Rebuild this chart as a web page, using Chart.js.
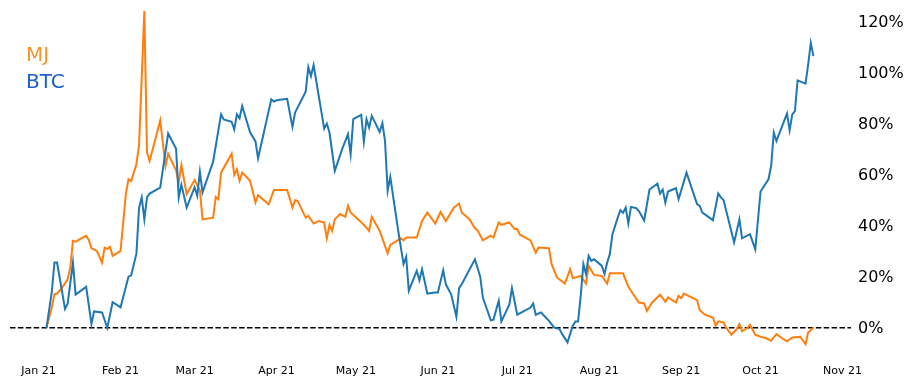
<!DOCTYPE html>
<html>
<head>
<meta charset="utf-8">
<script src="https://cdn.jsdelivr.net/npm/chart.js@4.4.1/dist/chart.umd.min.js"></script>
<style>
    html, body { margin: 0; padding: 0; background: #fff; }
    .wrap { position: relative; width: 914px; height: 388px; }
    .legend {
        position: absolute;
        left: 26px;
        top: 41px;
        font-family: "DejaVu Sans", sans-serif;
        font-size: 20px;
        line-height: 27px;
    }
</style>
</head>
<body>
<div class="wrap">
    <canvas id="chart" width="914" height="388"></canvas>
    <div class="legend">
        <div style="color:#f0962a">MJ</div>
        <div style="color:#1b5fcf">BTC</div>
    </div>
</div>
<script>
// x values are days since 2021-01-01, y values are % return since the first day
const monthStarts = [0, 31, 59, 90, 120, 151, 181, 212, 243, 273, 304];
const monthLabels = ['Jan 21', 'Feb 21', 'Mar 21', 'Apr 21', 'May 21', 'Jun 21', 'Jul 21', 'Aug 21', 'Sep 21', 'Oct 21', 'Nov 21'];
const yTicks = [0, 20, 40, 60, 80, 100, 120];

const btcDays = [
    3, 5, 6, 7, 10, 11, 13, 14, 18, 20,
    21, 24, 26, 28, 31, 33, 34, 35, 37, 38,
    39, 40, 41, 42, 46, 49, 52, 53, 54, 56,
    59, 60, 61, 62, 66, 69, 70, 73, 74, 75,
    76, 77, 80, 82, 83, 88, 89, 90, 94, 96,
    97, 101, 102, 103, 104, 108, 109, 110, 112, 115,
    117, 118, 119, 122, 123, 124, 125, 126, 129, 130,
    131, 132, 133, 136, 138, 139, 140, 143, 144, 145,
    147, 150, 151, 153, 154, 156, 158, 159, 160, 165,
    167, 168, 171, 172, 174, 175, 178, 179, 181, 186,
    187, 188, 190, 193, 195, 197, 198, 200, 202, 203,
    204, 205, 206, 207, 208, 209, 210, 212, 213, 214,
    215, 216, 217, 219, 220, 221, 222, 223, 224, 226,
    227, 229, 231, 234, 235, 236, 237, 238, 241, 242,
    245, 249, 250, 251, 255, 257, 258, 259, 263, 265,
    266, 269, 271, 273, 276, 277, 278, 279, 283, 284,
    285, 286, 287, 290, 291, 292, 293
];
const btcReturns = [
    0, 14, 25.5, 25.5, 7.4, 9.4, 25.5, 13, 16, 1.5,
    6.4, 6, 0, 10, 8, 16, 20, 20.5, 29, 47,
    51, 42.4, 51, 52.5, 54.8, 76, 70, 51, 56, 47,
    55, 51.6, 61, 53, 65, 83.5, 81.5, 80.6, 77.6, 83.5,
    82, 86.8, 76.4, 73, 66.3, 89.4, 88.5, 89, 89.6, 78.6,
    84.2, 92.4, 102, 98.5, 102.8, 77.9, 79.9, 76.4, 61.4, 70.5,
    75.7, 67.9, 81.6, 83.3, 72.8, 81.6, 78.3, 82.9, 76.6, 80.1,
    73.1, 53.6, 59, 37.9, 24.9, 27.7, 14.5, 22.3, 18.6, 22.9,
    13.4, 13.8, 13.8, 22.5, 17, 13.1, 4.3, 15.5, 17, 26.8,
    20, 11.8, 2.9, 3.2, 10.6, 2.5, 9, 15.5, 5.1, 7.9,
    9.5, 5.1, 6, 2.7, 0.1, -0.5, -2.5, -5.7, 0.8, 2.5,
    2.5, 12.5, 24.9, 21, 28.1, 26.2, 26.8, 25.1, 24.2, 21,
    25.5, 28.8, 36.6, 43.1, 46, 45, 47, 40.8, 47.3, 46.8,
    45.7, 42, 54.1, 56.4, 52.5, 54.1, 49, 53.3, 54.6, 50.3,
    60.7, 48.4, 47.7, 45.1, 42.1, 52.5, 51, 50, 33.4, 42.4,
    35, 36.6, 30.7, 53.3, 58.1, 63.3, 76.4, 73.1, 83.8, 77.3,
    83.5, 84.8, 96.8, 95.5, 103, 111.5, 106.3
];

const mjDays = [
    3, 5, 6, 7, 9, 11, 12, 13, 14, 16,
    18, 19, 20, 22, 24, 25, 26, 27, 28, 31,
    33, 34, 35, 37, 38, 40, 41, 42, 46, 48,
    49, 52, 53, 54, 56, 59, 61, 62, 66, 67,
    68, 69, 73, 74, 75, 76, 77, 80, 82, 83,
    87, 89, 94, 96, 97, 98, 101, 102, 104, 106,
    108, 109, 110, 111, 112, 114, 116, 117, 118, 123,
    125, 126, 129, 132, 133, 135, 137, 138, 139, 143,
    145, 147, 150, 152, 154, 157, 159, 160, 163, 165,
    166, 168, 170, 171, 172, 174, 175, 178, 180, 181,
    182, 186, 188, 189, 193, 194, 196, 199, 201, 202,
    205, 207, 208, 210, 213, 215, 216, 221, 223, 225,
    227, 229, 230, 232, 235, 236, 237, 238, 241, 242,
    243, 244, 249, 250, 252, 255, 256, 257, 259, 260,
    262, 264, 265, 266, 268, 269, 271, 273, 275, 277,
    279, 281, 283, 285, 288, 290, 291, 292, 293
];
const mjReturns = [
    0, 7.9, 13.1, 13.4, 15.8, 19, 23.6, 34, 33.7, 34.9,
    36, 34.4, 31.1, 30.1, 25.5, 31.4, 30.8, 31.7, 28.1, 30.1,
    52.3, 58.1, 57.4, 64, 71.5, 123.9, 68.6, 65.3, 81.1, 63.3,
    68.1, 61.6, 56.8, 63.7, 52.3, 57.8, 53.8, 42.4, 43.1, 51.2,
    50.3, 60.7, 68.1, 59.8, 62, 57.5, 60.7, 57.5, 49, 51.9,
    48.3, 53.9, 53.9, 47, 49.9, 49.6, 43.1, 43.8, 40.8, 41.8,
    41.2, 35, 40.3, 37.9, 42.4, 44.5, 43.4, 47.7, 45.1, 40.3,
    37.9, 43.4, 37.9, 29.1, 32.4, 33.7, 35, 34.2, 35.3, 35.3,
    41.8, 45.1, 40.8, 45.3, 41.8, 47, 48.6, 45.1, 42.4, 38.9,
    38.1, 34.2, 35.5, 36, 35.3, 41.2, 40.3, 41.2, 38.6, 38.6,
    36.4, 34.2, 29.4, 31.4, 31.1, 24.9, 19.7, 17.3, 22.9, 19.4,
    20.3, 17.3, 24.2, 20.7, 20.3, 17.3, 21.3, 21.3, 16, 12.9,
    9.9, 9.5, 6.6, 9.9, 12.9, 11.6, 10.2, 11.9, 9.9, 12.5,
    11.6, 13.4, 10.8, 6.9, 5.1, 4, 0.8, 2.5, 2.1, 0,
    -2.7, -0.5, 1.4, -1.4, -0.1, 1.2, -2.7, -3.5, -4, -5.1,
    -2.5, -4, -5.3, -3.8, -3.5, -6.4, -1.8, -1, 0.1
];

function toPoints(days, vals) {
    return days.map((d, i) => ({ x: d, y: vals[i] }));
}

// dashed black line at 0%
const zeroLine = {
    id: 'zeroLine',
    beforeDatasetsDraw(chart) {
        const { ctx, chartArea, scales } = chart;
        const yPix = scales.y.getPixelForValue(0);
        ctx.save();
        ctx.strokeStyle = '#000';
        ctx.lineWidth = 1.5;
        ctx.setLineDash([5.5, 2.4]);
        ctx.beginPath();
        ctx.moveTo(chartArea.left, yPix);
        ctx.lineTo(chartArea.right, yPix);
        ctx.stroke();
        ctx.restore();
    }
};

new Chart(document.getElementById('chart'), {
    type: 'line',
    data: {
        datasets: [
            {
                label: 'MJ',
                data: toPoints(mjDays, mjReturns),
                borderColor: '#ff7f0e',
                borderWidth: 2,
                pointRadius: 0,
                tension: 0,
                order: 2
            },
            {
                label: 'BTC',
                data: toPoints(btcDays, btcReturns),
                borderColor: '#1f77b4',
                borderWidth: 2,
                pointRadius: 0,
                tension: 0,
                order: 1
            }
        ]
    },
    options: {
        responsive: false,
        animation: false,
        devicePixelRatio: 1,
        layout: { padding: { left: 10, top: 6, right: 0, bottom: 0 } },
        plugins: { legend: { display: false }, tooltip: { enabled: false } },
        scales: {
            x: {
                type: 'linear',
                min: -10.8,
                max: 307.2,
                grid: { display: false, drawTicks: false },
                border: { display: false },
                afterBuildTicks: s => { s.ticks = monthStarts.map(v => ({ value: v })); },
                afterFit: s => { s.height = 27; s.paddingLeft = 0; s.paddingRight = 0; },
                ticks: {
                    autoSkip: false,
                    maxRotation: 0,
                    padding: 4,
                    color: '#000',
                    font: { family: '"DejaVu Sans", sans-serif', size: 11 },
                    callback: (v, i) => monthLabels[i]
                }
            },
            y: {
                position: 'right',
                min: -13,
                max: 125.9,
                grid: { display: false, drawTicks: false },
                border: { display: false },
                afterBuildTicks: s => { s.ticks = yTicks.map(v => ({ value: v })); },
                afterFit: s => { s.width = 63; s.paddingTop = 0; s.paddingBottom = 0; },
                ticks: {
                    padding: 7,
                    labelOffset: 1.5,
                    color: '#000',
                    font: { family: '"DejaVu Sans", sans-serif', size: 16 },
                    callback: v => v + '%'
                }
            }
        }
    },
    plugins: [zeroLine]
});
</script>
</body>
</html>
